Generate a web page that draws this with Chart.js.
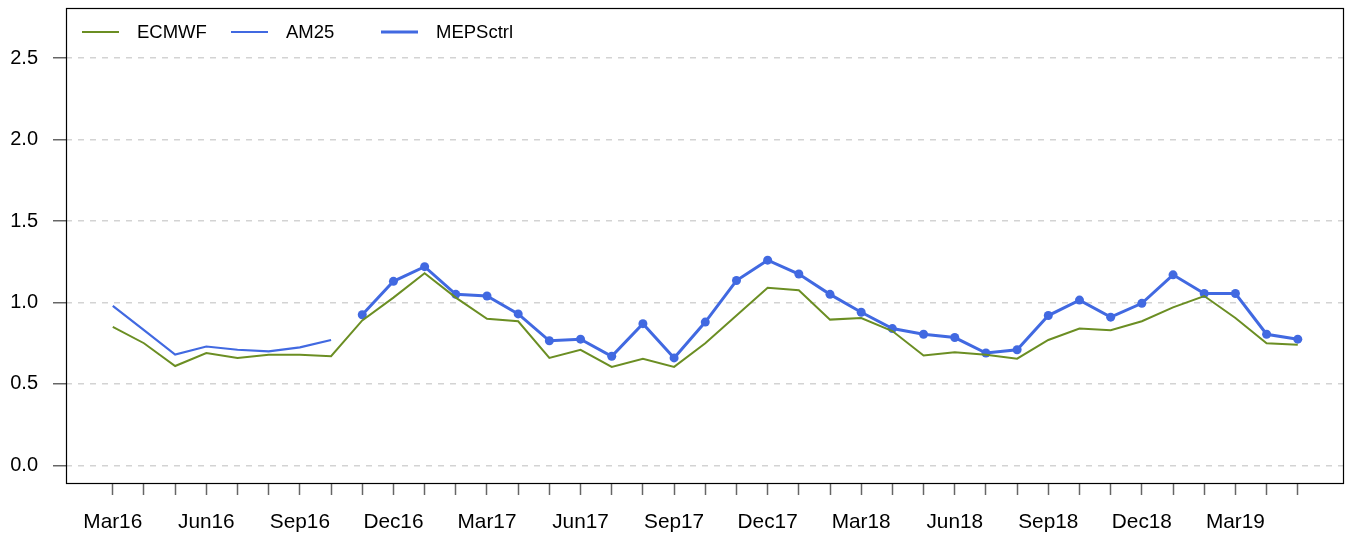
<!DOCTYPE html>
<html>
<head>
<meta charset="utf-8">
<script src="https://cdn.jsdelivr.net/npm/chart.js@4"></script>
<style>
  body { margin: 0; background: #fff; }
  canvas { display: block; }
</style>
</head>
<body>
<canvas id="chart" width="1353" height="538"></canvas>
<script>
var months = ['Mar16', 'Apr16', 'May16', 'Jun16', 'Jul16', 'Aug16', 'Sep16', 'Oct16', 'Nov16', 'Dec16',
	'Jan17', 'Feb17', 'Mar17', 'Apr17', 'May17', 'Jun17', 'Jul17', 'Aug17', 'Sep17', 'Oct17', 'Nov17', 'Dec17',
	'Jan18', 'Feb18', 'Mar18', 'Apr18', 'May18', 'Jun18', 'Jul18', 'Aug18', 'Sep18', 'Oct18', 'Nov18', 'Dec18',
	'Jan19', 'Feb19', 'Mar19', 'Apr19', 'May19'];

var ecmwf = [0.85, 0.75, 0.61, 0.69, 0.66, 0.68, 0.68, 0.67, 0.89, 1.03,
	1.18, 1.03, 0.90, 0.885, 0.66, 0.71, 0.605, 0.655, 0.605, 0.75, 0.92, 1.09,
	1.075, 0.895, 0.905, 0.825, 0.675, 0.695, 0.68, 0.655, 0.77, 0.84, 0.83, 0.885,
	0.97, 1.04, 0.905, 0.75, 0.74];

var am25 = [0.98, 0.83, 0.68, 0.73, 0.71, 0.70, 0.725, 0.77, null, null,
	null, null, null, null, null, null, null, null, null, null, null, null,
	null, null, null, null, null, null, null, null, null, null, null, null,
	null, null, null, null, null];

var mepsctrl = [null, null, null, null, null, null, null, null, 0.925, 1.13,
	1.22, 1.05, 1.04, 0.93, 0.765, 0.775, 0.67, 0.87, 0.66, 0.88, 1.135, 1.26,
	1.175, 1.05, 0.94, 0.84, 0.805, 0.785, 0.69, 0.71, 0.92, 1.015, 0.91, 0.995,
	1.17, 1.055, 1.055, 0.805, 0.775];

var yTicks = [0, 0.5, 1.0, 1.5, 2.0, 2.5];

var FONT = '"Liberation Sans", Arial, sans-serif';

function toPoints(arr) {
	return arr.map(function (v, i) { return { x: i, y: v }; });
}

// legend drawn inside the plot box, top-left, like the R legend
var legendPlugin = {
	id: 'rlegend',
	afterDraw: function (chart) {
		var c = chart.ctx;
		var starts = [82, 231, 381];
		c.save();
		c.font = '18.5px ' + FONT;
		c.textBaseline = 'middle';
		c.fillStyle = '#000';
		chart.data.datasets.forEach(function (ds, i) {
			var x0 = starts[i];
			c.strokeStyle = ds.borderColor;
			c.lineWidth = ds.borderWidth;
			c.beginPath();
			c.moveTo(x0, 32);
			c.lineTo(x0 + 37, 32);
			c.stroke();
			c.fillText(ds.label, x0 + 55, 33);
		});
		c.restore();
	}
};

// full box round the plot area
var boxPlugin = {
	id: 'box',
	afterDraw: function (chart) {
		var a = chart.chartArea;
		var c = chart.ctx;
		c.save();
		c.strokeStyle = '#000';
		c.lineWidth = 1.2;
		c.strokeRect(Math.round(a.left) + 0.5, Math.round(a.top) + 0.5,
			Math.round(a.right - a.left), Math.round(a.bottom - a.top));
		c.restore();
	}
};

new Chart(document.getElementById('chart'), {
	type: 'line',
	data: {
		datasets: [{
			label: 'ECMWF',
			data: toPoints(ecmwf),
			borderColor: '#6B8E23',
			backgroundColor: '#6B8E23',
			borderWidth: 2,
			pointRadius: 0,
		}, {
			label: 'AM25',
			data: toPoints(am25),
			borderColor: '#4169E1',
			backgroundColor: '#4169E1',
			borderWidth: 2.2,
			pointRadius: 0,
		}, {
			label: 'MEPSctrl',
			data: toPoints(mepsctrl),
			borderColor: '#4169E1',
			backgroundColor: '#4169E1',
			borderWidth: 3,
			pointRadius: 4.5,
			pointBorderWidth: 0,
		}],
	},
	options: {
		responsive: false,
		animation: false,
		events: [],
		spanGaps: false,
		layout: { padding: { top: 8, right: 10, left: 0, bottom: 0 } },
		plugins: {
			legend: { display: false },
			tooltip: { enabled: false },
		},
		scales: {
			x: {
				type: 'linear',
				min: -1.5,
				max: 39.45,
				afterBuildTicks: function (scale) {
					scale.ticks = months.map(function (m, i) { return { value: i }; });
				},
				afterFit: function (scale) {
					scale.height = 55;
					scale.paddingLeft = 0;
					scale.paddingRight = 0;
				},
				grid: {
					drawOnChartArea: false,
					drawTicks: true,
					tickLength: 12,
					tickColor: '#666',
					tickWidth: 1.5,
				},
				border: { display: false },
				ticks: {
					autoSkip: false,
					maxRotation: 0,
					padding: 15,
					color: '#000',
					font: { family: FONT, size: 20.8 },
					callback: function (v) { return v % 3 === 0 ? months[v] : ''; },
				},
			},
			y: {
				min: -0.108,
				max: 2.808,
				afterBuildTicks: function (scale) {
					scale.ticks = yTicks.map(function (v) { return { value: v }; });
				},
				afterFit: function (scale) {
					scale.width = 66;
					scale.paddingTop = 0;
					scale.paddingBottom = 0;
				},
				grid: {
					color: '#D3D3D3',
					lineWidth: 1.5,
					drawTicks: true,
					tickLength: 13,
					tickColor: '#666',
					tickWidth: 1.5,
					tickBorderDash: [],
				},
				border: { display: false, dash: [6, 6] },
				ticks: {
					padding: 15,
					color: '#000',
					font: { family: FONT, size: 20 },
					callback: function (v) { return v.toFixed(1); },
				},
			},
		},
	},
	plugins: [legendPlugin, boxPlugin],
});
</script>
</body>
</html>
